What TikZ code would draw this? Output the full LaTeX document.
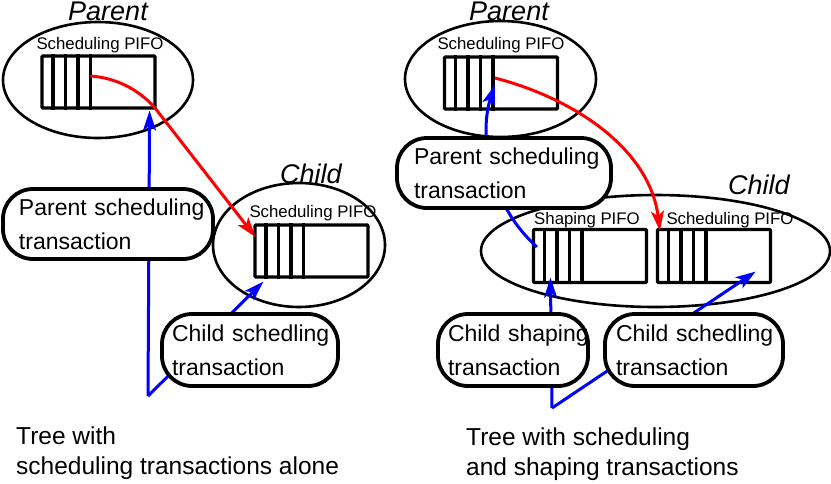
\documentclass[tikz,border=0pt]{standalone}
\usepackage{fontspec}
\setmainfont{Liberation Sans}
\usetikzlibrary{arrows.meta,shapes.geometric,calc}
\begin{document}
\begin{tikzpicture}[x=1pt,y=-1pt,
  group/.style={ellipse, draw, line width=2.6pt, inner sep=0pt},
  pifo/.style={draw, line width=3.2pt, rounded corners=1pt, minimum width=113pt, minimum height=52pt, inner sep=0pt},
  slot/.style={line width=3.2pt},
  pifolabel/.style={font=\fontsize{16.8}{18}\selectfont, inner sep=0pt},
  tlabel/.style={font=\fontsize{27}{30}\selectfont\itshape, inner sep=0pt},
  trans/.style={draw, line width=3.8pt, rounded corners=30pt, fill=white, align=left, font=\fontsize{23}{34}\selectfont, inner ysep=2pt},
  tip/.style={-{Stealth[length=20pt,width=13pt,inset=5pt]}},
  redline/.style={red, line width=3pt, tip},
  blueline/.style={blue, line width=3pt},
  caption/.style={font=\fontsize{24.5}{30}\selectfont, align=left, inner sep=0pt}
]
\useasboundingbox (0,0) rectangle (831,483);

% ---------- left tree ----------
\node[group, minimum width=190pt, minimum height=116pt] (pe) at (98,80) {};
\node[group, minimum width=172pt, minimum height=124pt] (ce) at (299,245) {};
\node[tlabel] (lpar) at (108,11) {Parent};
\node[tlabel] (lchi) at (311,174) {Child};
\node[pifolabel] (lpl) at (100,45) {Scheduling PIFO};
\node[pifolabel] (lcl) at (313,213) {Scheduling PIFO};
\node[pifo] (pp) at (98.5,82) {};
\node[pifo] (pc) at (311.5,251) {};
\foreach \n in {pp,pc}{
  \foreach \i in {1,...,4}{
    \draw[slot] ($(\n.north west)+(\i*12.5,0)$) -- ($(\n.south west)+(\i*12.5,0)$);
  }
}
\coordinate (lcorner) at (148,396);
\draw[blueline, tip] (lcorner) -- ($(pp.south east)+(-7,1)$);
\draw[blueline, tip] (lcorner) -- ($(pc.south west)+(10,3)$);
\draw[redline] ($(pp.west)+(50,-6)$) .. controls (120,78) and (142,93) .. (155,108) -- ($(pc.west)+(2,-14)$);
\node[trans, minimum width=210pt, minimum height=70pt, text width=178pt, inner xsep=16pt] (pst) at (108,224) {\mbox{Parent scheduling}\\\mbox{transaction}};
\node[trans, minimum width=176pt, minimum height=72pt, text width=156pt, inner xsep=10pt] (cst) at (250,350) {\mbox{Child schedling}\\\mbox{transaction}};
\node[caption, anchor=north west] (capl) at (16,427) {Tree with\\scheduling transactions alone};

% ---------- right tree ----------
\node[group, minimum width=191pt, minimum height=116pt] (rpe) at (500.5,79) {};
\node[group, minimum width=349pt, minimum height=112pt] (rce) at (655.5,251) {};
\node[tlabel] (rpar) at (509,11) {Parent};
\node[tlabel] (rchi) at (759,185) {Child};
\node[pifolabel] (rpl) at (501,45) {Scheduling PIFO};
\node[pifolabel] (rshl) at (587,220) {Shaping PIFO};
\node[pifolabel] (rscl) at (730,220) {Scheduling PIFO};
\node[pifo] (rp) at (501,83) {};
\node[pifo, minimum height=53pt] (sh) at (590,256) {};
\node[pifo, minimum height=53pt] (rs) at (714,256) {};
\foreach \n in {rp,sh,rs}{
  \foreach \i in {1,...,4}{
    \draw[slot] ($(\n.north west)+(\i*12.5,0)$) -- ($(\n.south west)+(\i*12.5,0)$);
  }
}
\draw[redline] ($(rp.west)+(52,-5)$) .. controls (576,99) and (650,150) .. ($(rs.north west)+(4,3)$);
\draw[blueline, tip] ($(sh.west)+(5,-9)$) .. controls (485,200) and (480,130) .. ($(rp.west)+(52,2)$);
\coordinate (rcorner) at (552,408);
\draw[blueline, tip] (rcorner) -- ($(sh.south west)+(18.5,-6.5)$);
\draw[blueline, tip] (rcorner) -- ($(rs.south east)+(-16.5,-12.5)$);
\node[trans, minimum width=214pt, minimum height=70pt, text width=180pt, inner xsep=17pt] (rpst) at (504,173) {\mbox{Parent scheduling}\\\mbox{transaction}};
\node[trans, minimum width=150pt, minimum height=72pt, text width=130pt, inner xsep=10pt] (rcsh) at (513,350) {\mbox{Child shaping}\\\mbox{transaction}};
\node[trans, minimum width=178pt, minimum height=72pt, text width=156pt, inner xsep=11pt] (rcsc) at (694,350) {\mbox{Child schedling}\\\mbox{transaction}};
\node[caption, anchor=north west] (capr) at (466,428) {Tree with scheduling\\and shaping transactions};
\end{tikzpicture}
\end{document}
